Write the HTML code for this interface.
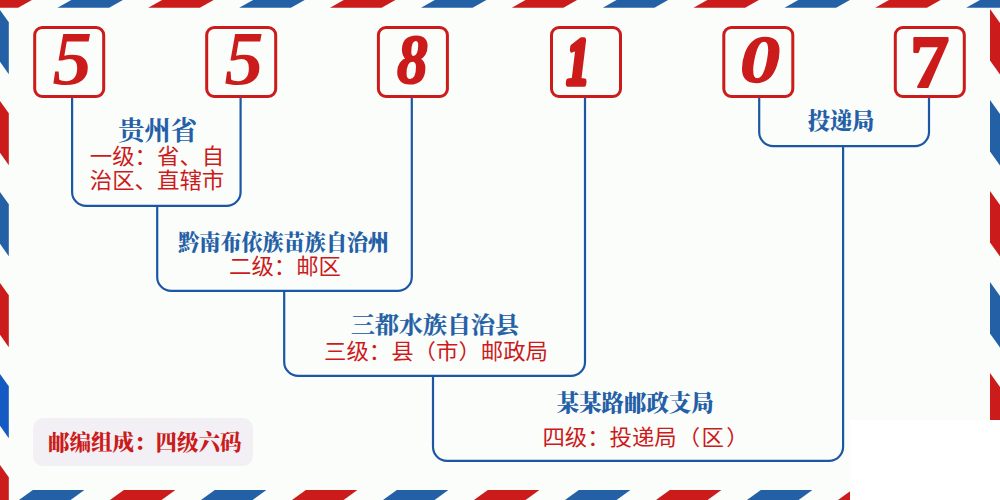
<!DOCTYPE html>
<html lang="zh-CN"><head><meta charset="utf-8"><title>558107</title>
<style>
html,body{margin:0;padding:0;}
body{width:1000px;height:500px;overflow:hidden;background:#fbfdfb;position:relative;}
svg{position:absolute;left:0;top:0;display:block;}
.ln path{fill:none;stroke:#1c57a5;stroke-width:2.2;}
.dg{font-family:"Liberation Serif","DejaVu Serif",serif;font-weight:bold;font-style:italic;font-size:100px;fill:#cb1b1b;}
.t{font-family:"Liberation Serif","Noto Serif CJK SC",serif;font-weight:bold;fill:#2460a6;text-anchor:middle;}
.k{font-weight:900;}
.r{font-family:"Liberation Sans","Noto Sans CJK SC",sans-serif;font-weight:400;font-size:22.4px;fill:#cb1b1b;text-anchor:middle;}
.p{font-family:"Liberation Serif","Noto Serif CJK SC",serif;font-weight:900;font-size:21.5px;fill:#cb1b1b;}
</style></head><body>
<svg width="1000" height="500" viewBox="0 0 1000 500">
<g class="bd">
<polygon points="-33.5,7.8 18.1,7.8 31.9,0.0 -19.7,0.0" fill="#cb1b1b"/>
<polygon points="57.5,7.8 109.1,7.8 122.9,0.0 71.3,0.0" fill="#2460a6"/>
<polygon points="148.2,7.8 199.8,7.8 213.7,0.0 162.1,0.0" fill="#cb1b1b"/>
<polygon points="239.2,7.8 290.9,7.8 304.7,0.0 253.1,0.0" fill="#2460a6"/>
<polygon points="330.0,7.8 381.6,7.8 395.4,0.0 343.8,0.0" fill="#cb1b1b"/>
<polygon points="421.0,7.8 472.6,7.8 486.4,0.0 434.8,0.0" fill="#2460a6"/>
<polygon points="511.8,7.8 563.4,7.8 577.1,0.0 525.5,0.0" fill="#cb1b1b"/>
<polygon points="602.8,7.8 654.4,7.8 668.1,0.0 616.5,0.0" fill="#2460a6"/>
<polygon points="693.5,7.8 745.1,7.8 758.9,0.0 707.3,0.0" fill="#cb1b1b"/>
<polygon points="784.5,7.8 836.1,7.8 849.9,0.0 798.3,0.0" fill="#2460a6"/>
<polygon points="875.2,7.8 926.9,7.8 940.6,0.0 889.0,0.0" fill="#cb1b1b"/>
<polygon points="966.2,7.8 1017.9,7.8 1031.7,0.0 980.0,0.0" fill="#2460a6"/>
<polygon points="19.0,500.0 70.6,500.0 84.4,490.0 32.8,490.0" fill="#2460a6"/>
<polygon points="110.0,500.0 161.6,500.0 175.4,490.0 123.8,490.0" fill="#cb1b1b"/>
<polygon points="201.0,500.0 252.6,500.0 266.4,490.0 214.8,490.0" fill="#2460a6"/>
<polygon points="292.0,500.0 343.6,500.0 357.4,490.0 305.8,490.0" fill="#cb1b1b"/>
<polygon points="383.0,500.0 434.6,500.0 448.4,490.0 396.8,490.0" fill="#2460a6"/>
<polygon points="474.0,500.0 525.6,500.0 539.4,490.0 487.8,490.0" fill="#cb1b1b"/>
<polygon points="565.0,500.0 616.6,500.0 630.4,490.0 578.8,490.0" fill="#2460a6"/>
<polygon points="656.0,500.0 707.6,500.0 721.4,490.0 669.8,490.0" fill="#cb1b1b"/>
<polygon points="747.0,500.0 798.6,500.0 812.4,490.0 760.8,490.0" fill="#2460a6"/>
<polygon points="838.0,500.0 889.6,500.0 903.4,490.0 851.8,490.0" fill="#cb1b1b"/>
<polygon points="929.0,500.0 980.6,500.0 994.4,490.0 942.8,490.0" fill="#2460a6"/>
<polygon points="0.0,10.0 8.8,22.3 8.8,74.3 0.0,61.7" fill="#2460a6"/>
<polygon points="0.0,101.0 8.8,113.3 8.8,165.3 0.0,152.7" fill="#cb1b1b"/>
<polygon points="0.0,192.0 8.8,204.3 8.8,256.3 0.0,243.7" fill="#2460a6"/>
<polygon points="0.0,283.0 8.8,295.3 8.8,347.3 0.0,334.7" fill="#cb1b1b"/>
<polygon points="0.0,374.0 8.8,386.3 8.8,438.3 0.0,425.7" fill="#1559c2"/>
<polygon points="0.0,465.0 8.8,477.3 8.8,529.3 0.0,516.7" fill="#cb1b1b"/>
<polygon points="990.0,9.0 1000.0,23.0 1000.0,74.5 990.0,60.5" fill="#cb1b1b"/>
<polygon points="990.0,100.0 1000.0,114.0 1000.0,165.5 990.0,151.5" fill="#2460a6"/>
<polygon points="990.0,191.0 1000.0,205.0 1000.0,256.5 990.0,242.5" fill="#cb1b1b"/>
<polygon points="990.0,282.0 1000.0,296.0 1000.0,347.5 990.0,333.5" fill="#2460a6"/>
<polygon points="990.0,373.0 1000.0,387.0 1000.0,438.5 990.0,424.5" fill="#cb1b1b"/>
<polygon points="990.0,464.0 1000.0,478.0 1000.0,529.5 990.0,515.5" fill="#2460a6"/>
</g>
<rect x="850" y="420" width="150" height="80" fill="#ffffff"/>
<g class="ln">
<path d="M72.1 97.0 V191.9 A14 14 0 0 0 86.1 205.9 H226.6 A14 14 0 0 0 240.6 191.9 V97.0" />
<path d="M157.2 205.9 V276.9 A14 14 0 0 0 171.2 290.9 H397.8 A14 14 0 0 0 411.8 276.9 V97.0" />
<path d="M284.2 290.9 V361.9 A14 14 0 0 0 298.2 375.9 H571.0 A14 14 0 0 0 585.0 361.9 V97.0" />
<path d="M433.0 375.9 V446.8 A14 14 0 0 0 447.0 460.8 H829.1 A14 14 0 0 0 843.1 446.8 V146.1" />
<path d="M759.2 97.0 V132.1 A14 14 0 0 0 773.2 146.1 H915.0 A14 14 0 0 0 929.0 132.1 V97.0" />
</g>
<rect x="34.70" y="27.5" width="69" height="69" rx="7.5" ry="7.5" fill="none" stroke="#cb1b1b" stroke-width="3"/>
<text class="dg" transform="translate(52.41 84.24) scale(0.7913 0.7606)" x="0" y="0">5</text>
<rect x="206.70" y="27.5" width="69" height="69" rx="7.5" ry="7.5" fill="none" stroke="#cb1b1b" stroke-width="3"/>
<text class="dg" transform="translate(224.62 84.24) scale(0.7826 0.7606)" x="0" y="0">5</text>
<rect x="378.40" y="27.5" width="69" height="69" rx="7.5" ry="7.5" fill="none" stroke="#cb1b1b" stroke-width="3"/>
<text class="dg" transform="translate(396.89 82.78) scale(0.6122 0.6914)" x="0" y="0" stroke="#cb1b1b" stroke-width="3" stroke-linejoin="round">8</text>
<rect x="551.50" y="27.5" width="69" height="69" rx="7.5" ry="7.5" fill="none" stroke="#cb1b1b" stroke-width="3"/>
<text class="dg" transform="translate(566.41 84.00) scale(0.4565 0.6743)" x="0" y="0" stroke="#cb1b1b" stroke-width="8" stroke-linejoin="round">1</text>
<rect x="723.80" y="27.5" width="69" height="69" rx="7.5" ry="7.5" fill="none" stroke="#cb1b1b" stroke-width="3"/>
<text class="dg" transform="translate(739.90 82.10) scale(0.8021 0.6667)" x="0" y="0" stroke="#cb1b1b" stroke-width="2" stroke-linejoin="round">0</text>
<rect x="895.30" y="27.5" width="69" height="69" rx="7.5" ry="7.5" fill="none" stroke="#cb1b1b" stroke-width="3"/>
<text class="dg" transform="translate(910.06 87.28) scale(0.7867 0.7471)" x="0" y="0" stroke="#cb1b1b" stroke-width="3" stroke-linejoin="round" style="font-style:normal">7</text>

<text class="t" x="157.6" y="139.5" font-size="26.3">贵州省</text>
<text class="r" transform="translate(157 163.9) scale(1 0.945)">一级：省、自</text>
<text class="r" transform="translate(157 187.6) scale(1 0.945)">治区、直辖市</text>
<text class="t k" x="283.7" y="249.6" font-size="21.1">黔南布依族苗族自治州</text>
<text class="r" transform="translate(285 274.2) scale(1 0.945)">二级：邮区</text>
<text class="t" transform="translate(435 333.2) scale(1 0.95)" font-size="24" stroke="#2460a6" stroke-width="0.25">三都水族自治县</text>
<text class="r" transform="translate(436 358.5) scale(1 0.945)">三级：县（市）邮政局</text>
<text class="t k" x="635.2" y="411" font-size="22.4">某某路邮政支局</text>
<text class="r" transform="translate(542.4 445.4) scale(1 0.945)" style="text-anchor:start">四级：投递局<tspan dx="1">（</tspan><tspan dx="1.3">区</tspan><tspan dx="2.4">）</tspan></text>
<text class="t k" x="841" y="129" font-size="22.2">投递局</text>
<rect x="33" y="418" width="220" height="48" rx="10" ry="10" fill="#f2f0f4"/>
<text class="p" x="48" y="450">邮编组成：四级六码</text>
</svg>
</body></html>
